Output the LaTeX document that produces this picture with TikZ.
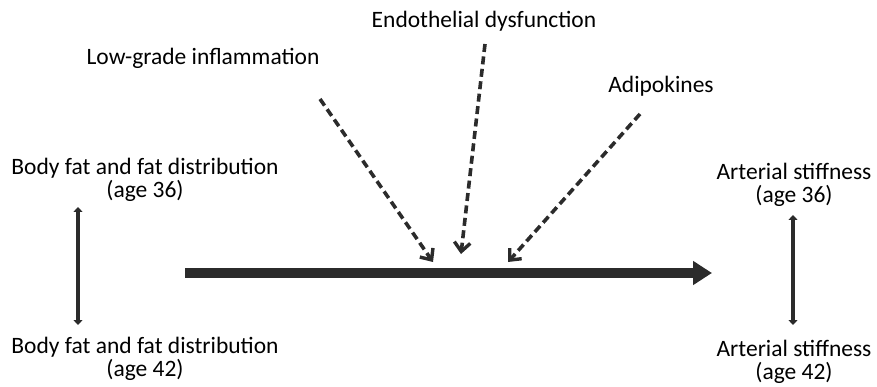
\documentclass[tikz,border=0pt]{standalone}
\usepackage{fontspec}
\setmainfont{Carlito}
\usetikzlibrary{arrows.meta}
\definecolor{ink}{HTML}{2B2B2B}
\begin{document}
\begin{tikzpicture}[x=1pt,y=-1pt,
  lbl/.style={font=\fontsize{23.5}{23.5}\selectfont, align=center, inner sep=0pt, text=black},
  mainarr/.style={draw=ink, line width=10pt, -{Triangle[length=19pt,width=23pt]}},
  dasharr/.style={draw=ink, line width=3.6pt, dash pattern=on 8pt off 4.5pt, -{Straight Barb[length=9pt,width=16pt,line width=3.4pt]}},
  dblarr/.style={draw=ink, line width=4pt, {Triangle[length=5pt,width=9pt]}-{Triangle[length=5pt,width=9pt]}}]
\useasboundingbox (0,0) rectangle (877,387);
\node[lbl] (endo) at (484,21) {Endothelial dysfunction};
\node[lbl] (infl) at (203,58) {Low-grade inflammation};
\node[lbl] (adip) at (661,86) {Adipokines};
\node[lbl] (bf36) at (145,180) {Body fat and fat distribution\\(age 36)};
\node[lbl] (bf42) at (145,359) {Body fat and fat distribution\\(age 42)};
\node[lbl] (as36) at (794,185) {Arterial stiffness\\(age 36)};
\node[lbl] (as42) at (794,362) {Arterial stiffness\\(age 42)};
\coordinate (ms) at (185,273);
\coordinate (me) at (712,273);
\coordinate (ls) at (320,99);
\coordinate (le) at (433,262);
\coordinate (cs) at (485,44);
\coordinate (ce) at (461,254);
\coordinate (rs) at (640,114);
\coordinate (re) at (508,262);
\coordinate (bt) at (78,207);
\coordinate (bb) at (78,325);
\coordinate (at) at (793,215);
\coordinate (ab) at (793,325);
\draw[mainarr] (ms) -- (me);
\draw[dasharr] (ls) -- (le);
\draw[dasharr] (cs) -- (ce);
\draw[dasharr] (rs) -- (re);
\draw[dblarr] (bt) -- (bb);
\draw[dblarr] (at) -- (ab);
\end{tikzpicture}
\end{document}
